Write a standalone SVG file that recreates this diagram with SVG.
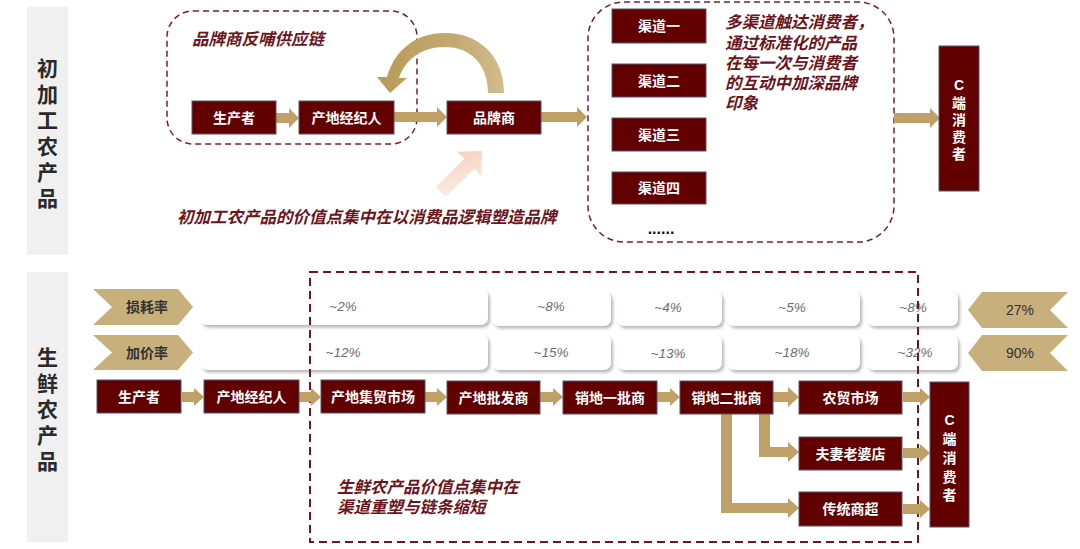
<svg xmlns="http://www.w3.org/2000/svg" width="1080" height="549" viewBox="0 0 1080 549">
<style>
text{font-family:"Liberation Sans","Noto Sans CJK SC",sans-serif}
.panel{fill:#f0f0f0}
.ptxt{font-size:21px;font-weight:bold;fill:#2a2a2a;text-anchor:middle}
.node rect{fill:#620000;stroke:#55556e;stroke-width:1}
.nt{font-size:14px;font-weight:bold;fill:#fff;text-anchor:middle}
.ga{fill:#bfa067}
.chev{fill:#c8b07c}
.ct{font-size:14px;font-weight:bold;fill:#333;text-anchor:middle}
.rt{font-size:14px;fill:#333;text-anchor:middle}
.dash{fill:none;stroke:#7a1e2c;stroke-width:1.5;stroke-dasharray:6 4}
.dash2{fill:none;stroke:#7a1020;stroke-width:2;stroke-dasharray:8 5}
.note{font-size:16.5px;font-weight:bold;font-style:italic;fill:#6b1520}
.vb{fill:#fff;filter:url(#sh)}
.vt{font-size:13.5px;font-style:italic;fill:#6e6e6e;text-anchor:middle}
</style>
<defs>
<filter id="sh" x="-5%" y="-20%" width="110%" height="150%">
<feDropShadow dx="2" dy="2.5" stdDeviation="1.5" flood-color="#888" flood-opacity="0.6"/>
</filter>
<linearGradient id="arcg" x1="0" y1="0" x2="1" y2="0">
<stop offset="0" stop-color="#b89a58"/>
<stop offset="0.6" stop-color="#c4a86f"/>
<stop offset="1" stop-color="#d2bd8c"/>
</linearGradient>
<linearGradient id="pk" x1="0" y1="1" x2="1" y2="0">
<stop offset="0" stop-color="#fdf1ea"/>
<stop offset="1" stop-color="#f4cdb8"/>
</linearGradient>
</defs>

<g id="panel-top">
<rect class="panel" x="27" y="7" width="41" height="248"/>
<text class="ptxt" x="47.5" y="76">初</text>
<text class="ptxt" x="47.5" y="102">加</text>
<text class="ptxt" x="47.5" y="128">工</text>
<text class="ptxt" x="47.5" y="154">农</text>
<text class="ptxt" x="47.5" y="180">产</text>
<text class="ptxt" x="47.5" y="206">品</text>
</g>
<g id="panel-bottom">
<rect class="panel" x="27" y="272" width="41" height="270"/>
<text class="ptxt" x="47.5" y="365">生</text>
<text class="ptxt" x="47.5" y="391">鲜</text>
<text class="ptxt" x="47.5" y="417">农</text>
<text class="ptxt" x="47.5" y="443">产</text>
<text class="ptxt" x="47.5" y="469">品</text>
</g>

<g id="groups-top">
<rect class="dash" x="167" y="11" width="250" height="133" rx="26"/>
<rect class="dash" x="588" y="2" width="306" height="240" rx="36"/>
</g>

<g id="notes">
<text class="note" x="192" y="45">品牌商反哺供应链</text>
<text class="note" x="177" y="223">初加工农产品的价值点集中在以消费品逻辑塑造品牌</text>
<text class="note" x="725" y="28">多渠道触达消费者，</text>
<text class="note" x="725" y="49">通过标准化的产品</text>
<text class="note" x="725" y="69">在每一次与消费者</text>
<text class="note" x="725" y="89">的互动中加深品牌</text>
<text class="note" x="725" y="109">印象</text>
<text class="note" x="337" y="493">生鲜农产品价值点集中在</text>
<text class="note" x="337" y="513">渠道重塑与链条缩短</text>
</g>

<g id="rates">
<polygon class="chev" points="93,289 178,289 193,307 178,325 93,325 112,307"/>
<text class="ct" x="147" y="312">损耗率</text>
<polygon class="chev" points="93,335 178,335 193,352.5 178,370 93,370 112,352.5"/>
<text class="ct" x="147" y="357.5">加价率</text>
<polygon class="chev" points="968,310 982,292 1068,292 1050,310 1068,328 982,328"/>
<text class="rt" x="1020" y="315">27%</text>
<polygon class="chev" points="968,353 982,335 1068,335 1050,353 1068,371 982,371"/>
<text class="rt" x="1020" y="358">90%</text>

<rect class="vb" x="200" y="289" width="288" height="36" rx="7"/>
<rect class="vb" x="492" y="291" width="119" height="35" rx="7"/>
<rect class="vb" x="617" y="291" width="105" height="35" rx="7"/>
<rect class="vb" x="727" y="291" width="133" height="35" rx="7"/>
<rect class="vb" x="867" y="291" width="91" height="35" rx="7"/>
<rect class="vb" x="200" y="334" width="288" height="36" rx="7"/>
<rect class="vb" x="492" y="335" width="119" height="35" rx="7"/>
<rect class="vb" x="617" y="335" width="105" height="35" rx="7"/>
<rect class="vb" x="727" y="335" width="133" height="35" rx="7"/>
<rect class="vb" x="867" y="335" width="91" height="35" rx="7"/>
<text class="vt" x="343" y="311">~2%</text>
<text class="vt" x="551" y="311">~8%</text>
<text class="vt" x="668" y="312">~4%</text>
<text class="vt" x="792" y="312">~5%</text>
<text class="vt" x="913" y="312">~8%</text>
<text class="vt" x="343" y="357">~12%</text>
<text class="vt" x="551" y="357">~15%</text>
<text class="vt" x="668" y="358">~13%</text>
<text class="vt" x="792" y="357">~18%</text>
<text class="vt" x="915" y="357">~32%</text>
</g>

<g id="group-bottom">
<rect class="dash2" x="310" y="272" width="608" height="270"/>
</g>

<g id="connectors">
<path fill="url(#arcg)" d="M504 93 C504 55 478 33 445 33 C414 33 394 52 387 77 L377 77 L390 93 L407 78 L399 78 C405 60 421 47 445 47 C470 47 488 64 488 93 Z"/>
<polygon fill="url(#pk)" transform="translate(441,192) rotate(-45)" points="0,-7 40,-7 40,-17 58,0 40,17 40,7 0,7"/>
<polygon class="ga" points="276,113 289,113 289,108 299,118 289,128 289,123 276,123"/>
<polygon class="ga" points="394,112 437,112 437,107 447,117 437,127 437,122 394,122"/>
<polygon class="ga" points="541,112 577,112 577,107 587,117 577,127 577,122 541,122"/>
<polygon class="ga" points="894,113 930,113 930,108 940,118 930,128 930,123 894,123"/>

<polygon class="ga" points="182,392 194,392 194,388 204,397 194,406 194,402 182,402"/>
<polygon class="ga" points="299,392 311,392 311,388 321,397 311,406 311,402 299,402"/>
<polygon class="ga" points="425,392 437,392 437,388 447,397 437,406 437,402 425,402"/>
<polygon class="ga" points="540,392 553,392 553,388 563,397 553,406 553,402 540,402"/>
<polygon class="ga" points="656,392 670,392 670,388 680,397 670,406 670,402 656,402"/>
<polygon class="ga" points="773,392 788,392 788,387 799,397 788,407 788,402 773,402"/>
<polygon class="ga" points="759,414 770,414 770,447 788,447 788,442 799,452 788,462 788,457 759,457"/>
<polygon class="ga" points="721,414 732,414 732,503 788,503 788,498 799,508 788,518 788,513 721,513"/>
<polygon class="ga" points="903,392 920,392 920,388 930,397 920,406 920,402 903,402"/>
<polygon class="ga" points="903,448 920,448 920,444 930,453 920,462 920,458 903,458"/>
<polygon class="ga" points="903,504 920,504 920,500 930,509 920,518 920,514 903,514"/>
</g>

<g id="top-nodes">
<g class="node" id="t-producer"><rect x="192" y="101" width="84" height="33"/><text class="nt" x="234" y="122.5">生产者</text></g>
<g class="node" id="t-broker"><rect x="299" y="101" width="95" height="33"/><text class="nt" x="346.5" y="122.5">产地经纪人</text></g>
<g class="node" id="t-brand"><rect x="447" y="101" width="94" height="33"/><text class="nt" x="494" y="122.5">品牌商</text></g>
<g class="node" id="ch1"><rect x="612" y="9" width="94" height="34"/><text class="nt" x="659" y="31">渠道一</text></g>
<g class="node" id="ch2"><rect x="612" y="64" width="94" height="33"/><text class="nt" x="659" y="85.5">渠道二</text></g>
<g class="node" id="ch3"><rect x="612" y="118" width="94" height="33"/><text class="nt" x="659" y="139.5">渠道三</text></g>
<g class="node" id="ch4"><rect x="612" y="172" width="94" height="32"/><text class="nt" x="659" y="193">渠道四</text></g>
<text id="more" x="661" y="234" font-size="16" font-weight="bold" fill="#111" text-anchor="middle">......</text>
<g class="node" id="t-consumer"><rect x="939" y="46" width="40" height="145"/>
<text class="nt" x="959" y="90" font-size="15">C</text>
<text class="nt" x="959" y="108" font-size="15">端</text>
<text class="nt" x="959" y="125" font-size="15">消</text>
<text class="nt" x="959" y="142" font-size="15">费</text>
<text class="nt" x="959" y="159" font-size="15">者</text></g>
</g>

<g id="bottom-nodes">
<g class="node" id="b-producer"><rect x="97" y="380" width="84" height="33"/><text class="nt" x="139" y="402">生产者</text></g>
<g class="node" id="b-broker"><rect x="204" y="380" width="95" height="33"/><text class="nt" x="251.5" y="402">产地经纪人</text></g>
<g class="node" id="b-market"><rect x="321" y="380" width="104" height="33"/><text class="nt" x="373" y="402">产地集贸市场</text></g>
<g class="node" id="b-wholesale"><rect x="447" y="381" width="93" height="33"/><text class="nt" x="493.5" y="403">产地批发商</text></g>
<g class="node" id="b-first"><rect x="563" y="381" width="94" height="33"/><text class="nt" x="610" y="403">销地一批商</text></g>
<g class="node" id="b-second"><rect x="680" y="381" width="93" height="33"/><text class="nt" x="726.5" y="403">销地二批商</text></g>
<g class="node" id="b-farmmarket"><rect x="799" y="381" width="103" height="33"/><text class="nt" x="850.5" y="403">农贸市场</text></g>
<g class="node" id="b-shop"><rect x="799" y="437" width="103" height="33"/><text class="nt" x="850.5" y="459">夫妻老婆店</text></g>
<g class="node" id="b-super"><rect x="799" y="492" width="103" height="34"/><text class="nt" x="850.5" y="514">传统商超</text></g>
<g class="node" id="b-consumer"><rect x="930" y="382" width="39" height="145"/>
<text class="nt" x="949.5" y="425" font-size="15">C</text>
<text class="nt" x="949.5" y="444" font-size="15">端</text>
<text class="nt" x="949.5" y="463" font-size="15">消</text>
<text class="nt" x="949.5" y="482" font-size="15">费</text>
<text class="nt" x="949.5" y="500" font-size="15">者</text></g>
</g>
</svg>
